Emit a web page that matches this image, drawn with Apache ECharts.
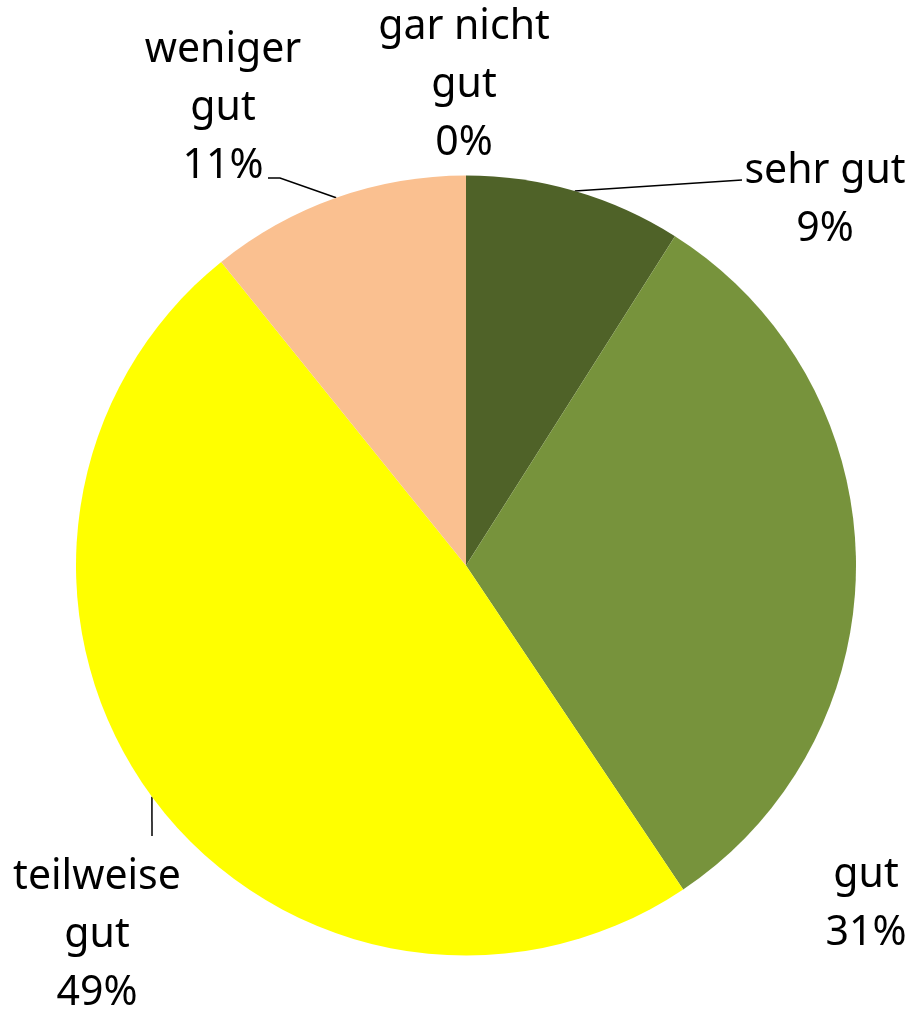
<!DOCTYPE html>
<html><head><meta charset="utf-8">
<script src="https://cdn.jsdelivr.net/npm/echarts@6/dist/echarts.min.js"></script>
<style>html,body{margin:0;padding:0;background:#fff}#c{width:912px;height:1009px}</style>
</head><body><div id="c"></div>
<script>
const categories = ['sehr gut', 'gut', 'teilweise gut', 'weniger gut', 'gar nicht gut'];
const labelNames = ['sehr gut', 'gut', 'teilweise\ngut', 'weniger\ngut', 'gar nicht\ngut'];
const shares = [9.0, 31.6, 48.6, 10.8, 0];
const percentLabels = ['9%', '31%', '49%', '11%', '0%'];
const colors = ['#4F6228', '#77933C', '#FFFF00', '#FAC090', '#A5A5A5'];

// label anchors and leader-line ends (layout only)
const labelPos = [
  {x: 825, y: 200, line: [[742, 180]]},
  {x: 866, y: 904, line: null},
  {x: 97,  y: 935, line: [[152, 836]]},
  {x: 223, y: 108, line: [[280, 178], [268, 178]]},
  {x: 464, y: 85,  line: null}
];

const chart = echarts.init(document.getElementById('c'), null, {renderer: 'canvas'});
const data = categories.map((name, i) => ({
  name: name,
  value: shares[i],
  itemStyle: {color: colors[i]},
  labelLine: {show: !!labelPos[i].line}
}));

chart.setOption({
  animation: false,
  backgroundColor: '#ffffff',
  series: [{
    type: 'pie',
    center: [466, 565.5],
    radius: 390,
    startAngle: 90,
    clockwise: true,
    avoidLabelOverlap: false,
    data: data,
    itemStyle: {borderWidth: 0},
    label: {
      show: true,
      position: 'outside',
      formatter: p => labelNames[p.dataIndex] + '\n' + percentLabels[p.dataIndex],
      color: '#000',
      fontFamily: 'Noto Sans',
      fontSize: 41,
      lineHeight: 58,
      align: 'center'
    },
    labelLine: {
      show: true,
      lineStyle: {color: '#000', width: 1.5}
    },
    emphasis: {disabled: true},
    labelLayout: function (params) {
      const p = labelPos[params.dataIndex];
      const res = {x: p.x, y: p.y, align: 'center', verticalAlign: 'middle'};
      if (p.line && params.labelLinePoints) {
        res.labelLinePoints = [params.labelLinePoints[0]].concat(p.line);
      }
      return res;
    }
  }]
});
</script></body></html>
